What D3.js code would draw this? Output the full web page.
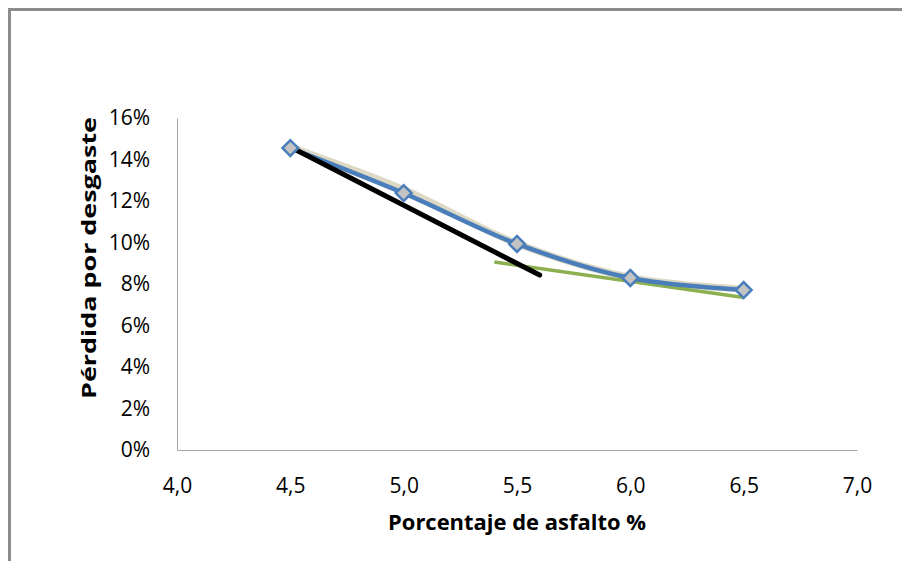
<!DOCTYPE html>
<html>
<head>
<meta charset="utf-8">
<script src="https://cdn.jsdelivr.net/npm/d3@7"></script>
<style>
    body { margin: 0; background: #fff; }
    text { font-family: "Open Sans", sans-serif; fill: #000; }
</style>
</head>
<body>
<div class="div-chart"></div>
<script>
// DATA

var asphalt = [4.5, 5.0, 5.5, 6.0, 6.5];
var wearLoss = [0.1455, 0.1238, 0.0993, 0.0829, 0.0771];

// beige trend
var trendX = [4.5, 5.0, 5.5, 6.0, 6.5];
var trendY = [0.146, 0.1255, 0.0995, 0.0832, 0.0775];

// black tangent
var tangentX = [4.5, 5.6];
var tangentY = [0.146, 0.0843];

// green tangent
var greenX = [5.4, 6.5];
var greenY = [0.0906, 0.0735];

var xTicks = [4.0, 4.5, 5.0, 5.5, 6.0, 6.5, 7.0];
var yTicks = [0, 0.02, 0.04, 0.06, 0.08, 0.10, 0.12, 0.14, 0.16];

// VISUALIZATION

var width = 902;
var height = 561;
var plotLeft = 177, plotRight = 857, plotTop = 118, plotBottom = 450;

var svg = d3.select('.div-chart').append('svg')
    .attr('width', width)
    .attr('height', height);

// outer frame (cut off at the right and bottom)
svg.append("rect")
    .attr("x", 9.5)
    .attr("y", 9.5)
    .attr("width", 1000)
    .attr("height", 1000)
    .attr("fill", "none")
    .attr("stroke", "#8c8c8c")
    .attr("stroke-width", 3);

var x_scale = d3.scaleLinear()
    .domain([4, 7])
    .range([plotLeft, plotRight]);

var y_scale = d3.scaleLinear()
    .domain([0, 0.16])
    .range([plotBottom, plotTop]);

// axes
var x_axis = d3.axisBottom(x_scale)
    .tickValues(xTicks)
    .tickSize(0)
    .tickPadding(28)
    .tickFormat(d => d.toFixed(1).replace(".", ","));

svg.append("g")
    .attr("class", "x axis")
    .attr("transform", "translate(0," + plotBottom + ")")
    .call(x_axis);

var y_axis = d3.axisLeft(y_scale)
    .tickValues(yTicks)
    .tickSize(0)
    .tickPadding(27)
    .tickFormat(d => Math.round(d * 100) + "%");

svg.append("g")
    .attr("class", "y axis")
    .attr("transform", "translate(" + plotLeft + ",0)")
    .call(y_axis);

svg.selectAll(".axis path").attr("stroke", "#a6a6a6").attr("stroke-width", 1);
svg.selectAll(".axis text")
    .style("font-family", "'Open Sans', sans-serif")
    .style("font-size", "21px")
    .attr("fill", "#000");

// axis titles
svg.append("text")
    .attr("x", (plotLeft + plotRight) / 2)
    .attr("y", 530)
    .attr("text-anchor", "middle")
    .style("font-size", "21px")
    .style("font-weight", "bold")
    .attr("textLength", 258)
    .attr("lengthAdjust", "spacingAndGlyphs")
    .text("Porcentaje de asfalto %");

svg.append("text")
    .attr("transform", "translate(96," + 258 + ") rotate(-90)")
    .attr("text-anchor", "middle")
    .style("font-size", "20px")
    .style("font-weight", "bold")
    .attr("textLength", 282)
    .attr("lengthAdjust", "spacingAndGlyphs")
    .text("Pérdida por desgaste");

// lines
function pairs(xs, ys) {
    return xs.map((x, i) => [x, ys[i]]);
}

var line = d3.line()
    .x(d => x_scale(d[0]))
    .y(d => y_scale(d[1]));

svg.append("path")
    .attr("d", line.curve(d3.curveCatmullRom)(pairs(trendX, trendY)))
    .attr("fill", "none")
    .attr("stroke", "#ddd8c4")
    .attr("stroke-width", 7);

svg.append("path")
    .attr("d", line.curve(d3.curveLinear)(pairs(greenX, greenY)))
    .attr("fill", "none")
    .attr("stroke", "#8cb050")
    .attr("stroke-width", 3.5);

svg.append("path")
    .attr("d", line.curve(d3.curveCatmullRom)(pairs(asphalt, wearLoss)))
    .attr("fill", "none")
    .attr("stroke", "#4a7ebb")
    .attr("stroke-width", 4.5)
    .attr("stroke-linecap", "round");

svg.append("path")
    .attr("d", line.curve(d3.curveLinear)(pairs(tangentX, tangentY)))
    .attr("fill", "none")
    .attr("stroke", "#000")
    .attr("stroke-width", 5)
    .attr("stroke-linecap", "round");

// markers
svg.selectAll("path.marker")
    .data(pairs(asphalt, wearLoss))
    .join("path")
    .attr("class", "marker")
    .attr("d", d3.symbol().type(d3.symbolSquare).size(125))
    .attr("transform", d => "translate(" + x_scale(d[0]) + "," + y_scale(d[1]) + ") rotate(45)")
    .attr("fill", "#c3c3c3")
    .attr("stroke", "#4a7ebb")
    .attr("stroke-width", 2.5);
</script>
</body>
</html>
